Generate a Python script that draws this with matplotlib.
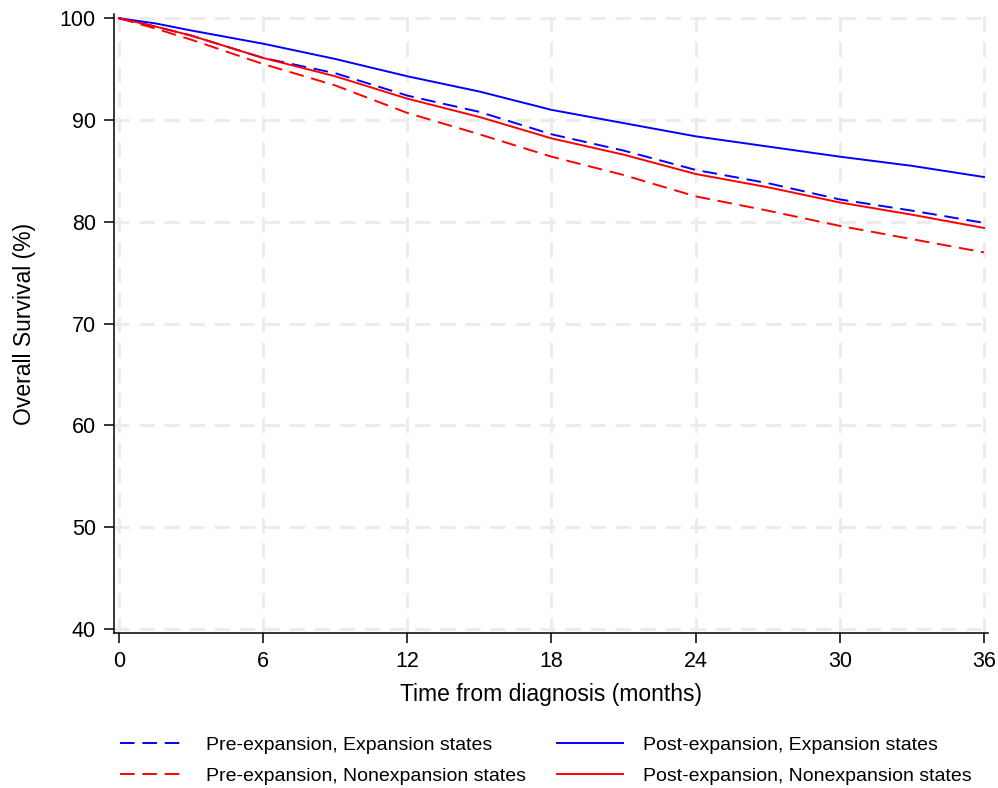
import matplotlib
matplotlib.use("Agg")
import matplotlib.pyplot as plt

plt.rcParams["font.family"] = ["Liberation Sans", "DejaVu Sans"]

# months since diagnosis and survival (%)
months = [0, 1.5, 3, 6, 9, 12, 15, 18, 21, 24, 27, 30, 33, 36]
pre_exp = [100, 99.2, 98.3, 96.1, 94.6, 92.4, 90.8, 88.6, 87.0, 85.1, 83.8, 82.2, 81.1, 79.9]
pre_nonexp = [100, 99.0, 97.9, 95.5, 93.4, 90.7, 88.6, 86.4, 84.6, 82.5, 81.1, 79.6, 78.3, 77.0]
post_exp = [100, 99.5, 98.8, 97.5, 96.0, 94.3, 92.8, 91.0, 89.7, 88.4, 87.4, 86.4, 85.5, 84.4]
post_nonexp = [100, 99.2, 98.3, 96.1, 94.3, 92.1, 90.3, 88.2, 86.6, 84.7, 83.4, 81.9, 80.7, 79.4]

xticks = [0, 6, 12, 18, 24, 30, 36]
yticks = [40, 50, 60, 70, 80, 90, 100]

fig = plt.figure(figsize=(9.98, 7.88), dpi=100)
ax = fig.add_axes([0.1142, 0.1967, 0.8758, 0.7853])

dash = (0, (7.5, 4))
ax.plot(months, pre_exp, color="#0000ff", lw=1.4, linestyle=dash,
        label="Pre-expansion, Expansion states")
ax.plot(months, pre_nonexp, color="#ff0000", lw=1.4, linestyle=dash,
        label="Pre-expansion, Nonexpansion states")
ax.plot(months, post_exp, color="#0000ff", lw=1.4,
        label="Post-expansion, Expansion states")
ax.plot(months, post_nonexp, color="#ff0000", lw=1.4,
        label="Post-expansion, Nonexpansion states")

ax.set_xlim(-0.21, 36.17)
ax.set_ylim(39.6, 100.4)
ax.set_xticks(xticks)
ax.set_yticks(yticks)
ax.grid(True, color="#ececec", lw=2.2, linestyle=(0, (5, 3.2)), zorder=0)
ax.set_axisbelow(True)

for s in ["top", "right"]:
    ax.spines[s].set_visible(False)
ax.spines["left"].set_linewidth(1.1)
ax.spines["bottom"].set_linewidth(1.1)
ax.tick_params(axis="both", direction="out", length=7, width=1.1, labelsize=15.5, pad=6)

ax.set_xlabel("Time from diagnosis (months)", fontsize=16.5, labelpad=8)
ax.set_ylabel("Overall Survival (%)", fontsize=16.5, labelpad=17)

fig.legend(loc="center", bbox_to_anchor=(0.547, 0.0345), ncol=2, frameon=False,
           fontsize=14, handlelength=3.4, handletextpad=1.0, columnspacing=1.6,
           labelspacing=0.7)

fig.savefig("out.png", dpi=100)
